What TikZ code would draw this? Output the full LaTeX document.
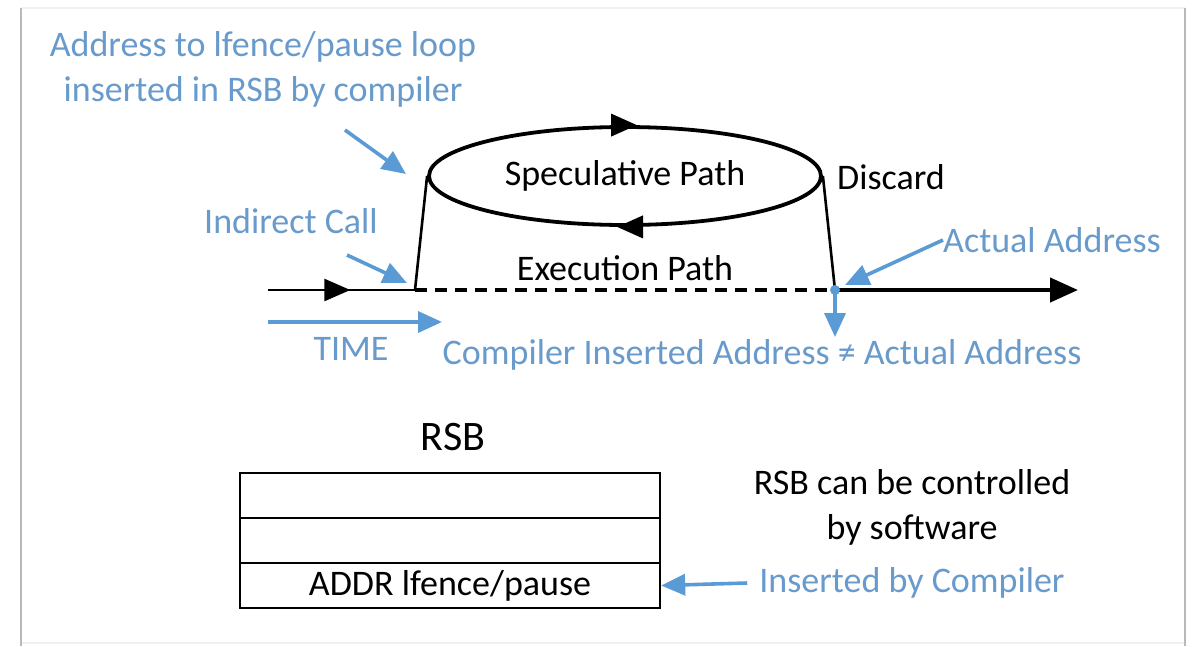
\documentclass[tikz,border=0pt]{standalone}
\usepackage{fontspec}
\setmainfont{Carlito}
\usetikzlibrary{arrows.meta,shapes.geometric,decorations.markings}
\definecolor{note}{RGB}{91,155,213}
\definecolor{notetext}{RGB}{104,154,204}
\tikzset{
  x=1pt, y=-1pt,
  txt/.style={font=\fontsize{36}{45}\selectfont, text=black, inner sep=0pt, align=center},
  bluetxt/.style={txt, text=notetext},
  callout/.style={draw=note, line width=3.6pt, -{Triangle[length=24pt,width=21pt]}},
  flow/.style={draw=black, line width=2.6pt},
  midarrow/.style={decoration={markings, mark=at position #1 with {\arrow{Triangle[length=26pt,width=22pt]}}}, postaction=decorate},
}
\begin{document}
\begin{tikzpicture}
\useasboundingbox (0,0) rectangle (1193,646);
% page frame
\draw[gray!12, line width=2pt] (21,8) -- (1185,8);
\draw[gray!12, line width=2pt] (21,643) -- (1185,643);
\draw[gray!55, line width=2.6pt] (21,8) -- (21,646);
\draw[gray!55, line width=2.6pt] (1185,8) -- (1185,646);

% timeline anchors
\coordinate (start) at (268,290);
\coordinate (call) at (415,290);
\coordinate (ret) at (835,290);
\coordinate (stop) at (1078,290);

% speculative loop
\node[ellipse, draw, line width=3.8pt, minimum width=392pt, minimum height=98pt, txt] (spec) at (625,176) {Speculative Path};
\draw[-{Triangle[length=26pt,width=22pt]}, line width=3.8pt] ([xshift=-12pt]spec.north) -- ([xshift=12pt]spec.north);
\draw[-{Triangle[length=26pt,width=22pt]}, line width=3.8pt] ([xshift=12pt]spec.south) -- ([xshift=-8pt]spec.south);

% execution path
\draw[flow, midarrow=0.56] (start) -- (call);
\draw[flow] (call) -- (spec.west);
\draw[flow, dash pattern=on 12pt off 8pt, line width=3.4pt] (call) -- (ret);
\draw[flow] (spec.east) -- (ret);
\draw[line width=4.2pt, -{Triangle[length=28pt,width=24pt]}] (ret) -- (stop);

\node[txt] (exec) at (625,268) {Execution Path};
\node[txt] (discard) at (891,177) {Discard};

% notes on the call
\node[bluetxt] (addrnote) at (263,69) {Address to lfence/pause loop\\inserted in RSB by compiler};
\node[bluetxt] (indirect) at (291,221) {Indirect Call};
\draw[callout] (345,130) -- (406,174);
\draw[callout] (347,255) -- (407,283);

% time axis
\coordinate (t0) at (268,322);
\coordinate (t1) at (442,322);
\draw[callout] (t0) -- (t1);
\node[bluetxt] (time) at (351,349) {TIME};

% notes on the return
\node[bluetxt, anchor=west] (actual) at (943,240) {Actual Address};
\draw[callout] (actual.west) -- (845,285);
\fill[note] (ret) circle (5pt);
\coordinate (retdown) at (835,337);
\draw[callout] (ret) -- (retdown);
\node[bluetxt] (mismatch) at (762,355) {Compiler Inserted Address ≠ Actual Address};

% return stack buffer
\node[txt, font=\fontsize{42}{50}\selectfont] (rsblabel) at (453,437) {RSB};
\node[draw, line width=2.4pt, minimum width=420pt, minimum height=45pt, inner sep=0pt] (row1) at (450,495.5) {};
\node[draw, line width=2.4pt, minimum width=420pt, minimum height=45pt, inner sep=0pt] (row2) at (450,540.5) {};
\node[draw, line width=2.4pt, minimum width=420pt, minimum height=45pt, inner sep=0pt, txt] (row3) at (450,585.5) {ADDR lfence/pause};

\node[txt] (ctrl) at (912,507) {RSB can be controlled\\by software};
\node[bluetxt] (inserted) at (912,583) {Inserted by Compiler};
\draw[callout] ([xshift=-12pt]inserted.west) -- (row3.east);
\end{tikzpicture}
\end{document}
